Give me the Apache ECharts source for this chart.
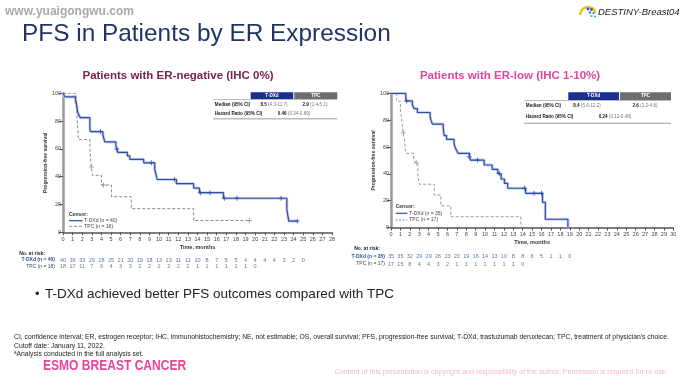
<!DOCTYPE html>
<html><head><meta charset="utf-8">
<script src="https://cdn.jsdelivr.net/npm/echarts@6/dist/echarts.min.js"></script>
<style>html,body{margin:0;padding:0;background:#fff}#c{width:693px;height:390px}</style>
</head><body><div id="c"></div>
<script>
// ---------- DATA ----------
// Left panel: ER-negative (IHC 0%)  [month, PFS %]
const leftTdxd = [[0,100],[0.2,97.5],[1.3,95],[1.4,92.5],[1.5,87.5],[1.6,85],[1.8,82.5],[2.8,75],[2.85,72.5],[4.15,70],[4.25,67.5],[4.35,65],[5.5,62.5],[5.6,60],[5.7,57.5],[6.7,55],[6.95,52.5],[8.4,50],[9.55,45],[9.65,42.5],[9.8,38],[11.8,35],[13.6,31.8],[14.2,28.5],[16.7,24.5],[23.3,16.3],[23.5,8.1],[24.4,8.1]];
const leftTpc = [[0,100],[1.35,94.4],[1.4,88.9],[1.45,83.3],[1.5,77.8],[1.55,72.2],[1.6,66.7],[2.8,61.1],[2.85,55.6],[2.9,50],[3.0,44.4],[3.05,41],[4.0,34],[5.05,25.6],[7.1,17],[13.6,8.5],[19.4,8.5]];
const leftTdxdCensor = [[3.9,72.5],[5.6,60],[9.2,50],[11.6,38],[14.3,28.5],[15.3,28.5],[16.8,24.5],[18.1,24.5],[22.7,24.5],[24.4,8.1]];
const leftTpcCensor = [[2.95,47],[4.2,34],[19.4,8.5]];
const leftTdxdRisk = [40,39,33,29,28,25,21,20,19,18,13,13,11,11,10,8,7,5,5,4,4,4,4,3,2,0];
const leftTpcRisk = [18,17,11,7,6,4,3,3,2,2,2,2,2,2,1,1,1,1,1,1,0];

// Right panel: ER-low (IHC 1-10%)
const rightTdxd = [[0,100],[1.57,97.1],[1.6,94.3],[2.27,91.4],[2.45,88.6],[2.8,85.7],[4.15,82.8],[4.25,80],[4.4,77.1],[5.55,74.2],[5.6,71.4],[5.65,68.5],[5.9,65.7],[6.7,62.8],[6.8,60],[7.0,57],[7.15,55.3],[8.35,52.8],[8.45,50.3],[9.9,46.6],[10.75,43.4],[11.35,40.2],[11.7,36.2],[12.05,33],[12.4,29.3],[14.3,25.5],[16.1,18.8],[16.4,6.2],[18.8,6.2],[18.8,0]];
const rightTpc = [[0,100],[0.6,94.1],[1.0,88.2],[1.1,82.4],[1.2,76.5],[1.3,70.6],[1.45,64.7],[1.5,58.8],[1.6,55.3],[2.4,51.5],[2.6,48.2],[2.85,40.2],[3.0,32.3],[4.6,24.3],[5.3,16.2],[6.35,8.1],[13.8,8.1],[13.8,0]];
const rightTdxdCensor = [[1.65,94.3],[8.3,52.8],[9.2,50.3],[11.5,40.2],[14.2,29.3],[15.2,25.5],[16.0,25.5]];
const rightTpcCensor = [[1.3,70.6],[2.7,48.2]];
const rightTdxdRisk = [35,35,32,29,29,26,23,20,19,16,14,13,10,8,8,6,5,1,1,0];
const rightTpcRisk = [17,15,8,4,4,3,2,1,1,1,1,1,1,1,0];

// ---------- STYLE ----------
const F = '"Liberation Sans", Arial, sans-serif';
const BLUE = '#2f4da3', BAND = '#c7d3ef', GRAY = '#8a8a8a';
const PLUS = 'path://M4,0h2v10h-2zM0,4h10v2h-10z';

function xAxisMain(grid, max) {
  return {gridIndex: grid, type:'value', min:0, max:max, interval:1,
    axisLine:{show:true, lineStyle:{color:'#555', width:1.5}},
    axisTick:{show:true, length:3, lineStyle:{color:'#555', width:1}},
    axisLabel:{fontSize:5.5, color:'#444', margin:4, fontFamily:F},
    splitLine:{show:false},
    name:'Time, months', nameLocation:'middle', nameGap:12,
    nameTextStyle:{fontSize:5.5, fontWeight:'bold', color:'#333', fontFamily:F}};
}
function yAxisMain(grid) {
  return {gridIndex: grid, type:'value', min:0, max:100, interval:20,
    axisLine:{show:true, lineStyle:{color:'#999', width:2.5}},
    axisTick:{show:true, length:4, lineStyle:{color:'#555', width:1}},
    axisLabel:{fontSize:5.5, color:'#444', margin:2, fontFamily:F},
    splitLine:{show:false},
    name:'Progression-free survival', nameLocation:'middle', nameGap:15, nameRotate:90,
    nameTextStyle:{fontSize:5, fontWeight:'bold', color:'#333', fontFamily:F}};
}
function hiddenX(grid, max){ return {gridIndex:grid, type:'value', min:0, max:max, show:false}; }
function hiddenY(grid){ return {gridIndex:grid, type:'value', min:0, max:1, show:false}; }

function stepSeries(data, xi, color, width, dashed, z){
  return {type:'line', step:'end', xAxisIndex:xi, yAxisIndex:xi, data:data, symbol:'none', z:z,
    lineStyle:{color:color, width:width, type: dashed ? [3,2] : 'solid'}, silent:true};
}
function censorSeries(data, xi, color){
  return {type:'scatter', xAxisIndex:xi, yAxisIndex:xi, data:data, symbol:PLUS, symbolSize:5, z:5,
    itemStyle:{color:color}, silent:true};
}
function riskSeries(arr, xi, yv, color){
  return {type:'scatter', xAxisIndex:xi, yAxisIndex:xi, symbolSize:1, itemStyle:{color:'rgba(0,0,0,0)'},
    data: arr.map((n,i)=>[i,yv,n]), clip:false,
    label:{show:true, position:'inside', formatter:p=>String(p.value[2]), fontSize:5.5, color:color, fontFamily:F},
    labelLayout:{hideOverlap:false},
    silent:true};
}

function txt(x,y,text,size,color,opts){
  opts = opts||{};
  const st = {text:text, x:0, y:0, fill:color,
    font:(opts.italic?'italic ':'')+(opts.bold?'bold ':'')+size+'px '+(opts.family||F),
    align:opts.align||'left', textAlign:opts.align||'left',
    verticalAlign:'middle', textVerticalAlign:'middle'};
  if (opts.rich) st.rich = opts.rich;
  const el = {type:'text', silent:true, x:x, y:y, style:st, z:10};
  if (opts.scaleX) el.scaleX = opts.scaleX;
  if (opts.scaleY) el.scaleY = opts.scaleY;
  return el;
}
function rect(x,y,w,h,fill){ return {type:'rect', silent:true, shape:{x:x,y:y,width:w,height:h}, style:{fill:fill}}; }
function line(x1,y1,x2,y2,color,w,dash){ return {type:'line', silent:true, shape:{x1:x1,y1:y1,x2:x2,y2:y2}, style:{stroke:color, lineWidth:w, lineDash:dash||null}}; }

function table(x0, x1, bx0, bx1, gx1, top, rowBot, y1, y2, bot, med1, med2, hr, cx1, cx2, chr){
  const rich = {b:{fontWeight:'bold', fontSize:4.6, fill:'#222', fontFamily:F}, g:{fontSize:4.6, fill:'#777', fontFamily:F}};
  return [
    rect(bx0, top, bx1-bx0, rowBot-top, '#1b2f8f'),
    rect(bx1+1, top, gx1-bx1-1, rowBot-top, '#6e6e6e'),
    txt((bx0+bx1)/2, (top+rowBot)/2, 'T-DXd', 4.6, '#fff', {bold:true, align:'center'}),
    txt((bx1+1+gx1)/2, (top+rowBot)/2, 'TPC', 4.6, '#fff', {bold:true, align:'center'}),
    line(x0, rowBot+0.5, x1, rowBot+0.5, '#bbb', 1),
    txt(x0+1.5, y1, 'Median (95% CI)', 4.6, '#222', {bold:true}),
    txt(cx1, y1, '{b|'+med1[0]+'} {g|'+med1[1]+'}', 4.6, '#222', {align:'center', rich:rich}),
    txt(cx2, y1, '{b|'+med2[0]+'} {g|'+med2[1]+'}', 4.6, '#222', {align:'center', rich:rich}),
    txt(x0+1.5, y2, 'Hazard Ratio (95% CI)', 4.6, '#222', {bold:true}),
    txt(chr, y2, '{b|'+hr[0]+'} {g|'+hr[1]+'}', 4.6, '#222', {align:'center', rich:rich}),
    line(x0, bot, x1, bot, '#bbb', 1.5)
  ];
}

const graphics = [
  txt(5, 12, 'www.yuaigongwu.com', 12, '#a9a9a9', {bold:true}),
  // logo
  {type:'arc', silent:true, shape:{cx:588, cy:15, r:8, startAngle:Math.PI, endAngle:Math.PI*1.9}, style:{stroke:'#f2c21b', lineWidth:2.5, fill:null}},
  {type:'circle', silent:true, shape:{cx:588, cy:9, r:1.4}, style:{fill:'#2a57b8'}},
  {type:'circle', silent:true, shape:{cx:591.5, cy:9.5, r:1.4}, style:{fill:'#2a57b8'}},
  {type:'circle', silent:true, shape:{cx:590, cy:12.5, r:1.3}, style:{fill:'#3d7fd0'}},
  {type:'circle', silent:true, shape:{cx:593.5, cy:13, r:1.2}, style:{fill:'#3d9fd8'}},
  {type:'circle', silent:true, shape:{cx:595, cy:16.5, r:1.1}, style:{fill:'#4fb56b'}},
  {type:'circle', silent:true, shape:{cx:591.5, cy:16, r:1.1}, style:{fill:'#3d9fd8'}},
  txt(598, 12, 'DESTINY-Breast04', 9.5, '#222', {italic:true}),
  txt(22, 34, 'PFS in Patients by ER Expression', 24.4, '#1f3566'),
  txt(178, 75.5, 'Patients with ER-negative (IHC 0%)', 11.5, '#7a2353', {bold:true, align:'center'}),
  txt(510, 75.5, 'Patients with ER-low (IHC 1-10%)', 11.5, '#e0459f', {bold:true, align:'center'}),
  // legends
  txt(69, 215, 'Censor:', 5, '#333', {bold:true}),
  line(69, 220.7, 82.7, 220.7, BLUE, 1.2),
  txt(84.3, 220.7, 'T-DXd (n = 40)', 5, '#444'),
  line(69, 226.3, 82.7, 226.3, GRAY, 1, [3,2]),
  txt(84.3, 226.3, 'TPC (n = 18)', 5, '#444'),
  txt(395.7, 206.7, 'Censor:', 5, '#333', {bold:true}),
  line(395.7, 213.3, 407.3, 213.3, BLUE, 1.2),
  txt(409.3, 213.3, 'T-DXd (n = 35)', 5, '#444'),
  line(395.7, 220, 407.3, 220, GRAY, 1, [2,1.5]),
  txt(409.3, 220, 'TPC (n = 17)', 5, '#444'),
  // at-risk labels
  txt(45, 253.3, 'No. at risk:', 5, '#222', {bold:true, align:'right'}),
  txt(55, 260, 'T-DXd (n = 40)', 5, BLUE, {bold:true, align:'right'}),
  txt(55, 266.7, 'TPC (n = 18)', 5, '#444', {align:'right'}),
  txt(380, 249, 'No. at risk:', 5, '#222', {bold:true, align:'right'}),
  txt(385, 256.7, 'T-DXd (n = 35)', 5, BLUE, {bold:true, align:'right'}),
  txt(385, 264, 'TPC (n = 17)', 5, '#444', {align:'right'}),
  // bullet and footnotes
  txt(35, 294, '•', 13, '#222'),
  txt(45, 294, 'T-DXd achieved better PFS outcomes compared with TPC', 13.5, '#222'),
  txt(14, 337.5, "CI, confidence interval; ER, estrogen receptor; IHC, immunohistochemistry; NE, not estimable; OS, overall survival; PFS, progression-free survival; T-DXd, trastuzumab deruxtecan; TPC, treatment of physician's choice.", 6.8, '#222'),
  txt(14, 346, 'Cutoff date: January 11, 2022.', 6.8, '#222'),
  txt(14, 354, 'ªAnalysis conducted in the full analysis set.', 6.8, '#222'),
  txt(43, 366, 'ESMO BREAST CANCER', 14, '#e8449a', {bold:true, scaleX:0.86, scaleY:1.1}),
  txt(668, 372, 'Content of this presentation is copyright and responsibility of the author. Permission is required for re-use.', 7.15, '#f6b9c6', {align:'right'})
].concat(
  table(213.3, 337.3, 250.7, 293.3, 337.3, 92.3, 99, 104.3, 114, 118.7, ['8.5','(4.3-11.7)'], ['2.9','(1.4-5.1)'], ['0.46','(0.24-0.89)'], 274, 315, 294),
  table(524.3, 671, 568.3, 619, 671, 92.3, 100, 105.7, 116.7, 123.3, ['8.4','(5.6-12.2)'], ['2.6','(1.2-4.6)'], ['0.24','(0.12-0.48)'], 587, 645, 615)
);

const option = {
  animation:false,
  backgroundColor:'#fff',
  grid:[
    {left:63, top:93.3, width:269, height:139},
    {left:391, top:93.3, width:282.3, height:134.3},
    {left:63, top:260, width:269, height:6.7},
    {left:391, top:256.7, width:282.3, height:7.3}
  ],
  xAxis:[xAxisMain(0,28), xAxisMain(1,30), hiddenX(2,28), hiddenX(3,30)],
  yAxis:[yAxisMain(0), yAxisMain(1), hiddenY(2), hiddenY(3)],
  series:[
    stepSeries(leftTdxd, 0, BAND, 3, false, 1),
    stepSeries(leftTdxd, 0, BLUE, 1.2, false, 3),
    stepSeries(leftTpc, 0, GRAY, 1, true, 2),
    censorSeries(leftTdxdCensor, 0, BLUE),
    censorSeries(leftTpcCensor, 0, GRAY),
    stepSeries(rightTdxd, 1, BAND, 3, false, 1),
    stepSeries(rightTdxd, 1, BLUE, 1.2, false, 3),
    stepSeries(rightTpc, 1, '#999', 1, true, 2),
    censorSeries(rightTdxdCensor, 1, BLUE),
    censorSeries(rightTpcCensor, 1, '#999'),
    riskSeries(leftTdxdRisk, 2, 1, BLUE),
    riskSeries(leftTpcRisk, 2, 0, '#555'),
    riskSeries(rightTdxdRisk, 3, 1, BLUE),
    riskSeries(rightTpcRisk, 3, 0, '#555')
  ],
  graphic:{elements:graphics}
};
const chart = echarts.init(document.getElementById('c'), null, {renderer:'canvas'});
chart.setOption(option);
</script></body></html>
